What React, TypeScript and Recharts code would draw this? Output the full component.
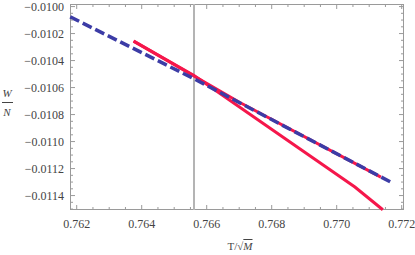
import { Line, LineChart, ReferenceLine, XAxis, YAxis } from 'recharts';

const blueT = [0.7618, 0.76561, 0.77169];
const blueW = [-0.010076, -0.010535, -0.011304];

const redUpperT = [0.76375, 0.76702, 0.77136];
const redUpperW = [-0.010256, -0.010711, -0.011263];

const redLowerT = [0.76375, 0.76561, 0.77056, 0.77142];
const redLowerW = [-0.010256, -0.01051, -0.011337, -0.011505];

const markerT = 0.76561;

const xMajorTicks = [0.762, 0.764, 0.766, 0.768, 0.77, 0.772];
const xTickLabels = ['0.762', '0.764', '0.766', '0.768', '0.770', '0.772'];
const xMinorTicks = [
  0.7625, 0.763, 0.7635, 0.7645, 0.765, 0.7655, 0.7665, 0.767,
  0.7675, 0.7685, 0.769, 0.7695, 0.7705, 0.771, 0.7715
];

const yMajorTicks = [-0.01, -0.0102, -0.0104, -0.0106, -0.0108, -0.011, -0.0112, -0.0114];
const yTickLabels = ['\u22120.0100', '\u22120.0102', '\u22120.0104', '\u22120.0106', '\u22120.0108', '\u22120.0110', '\u22120.0112', '\u22120.0114'];
const yMinorTicks = [
  -0.01005, -0.0101, -0.01015, -0.01025, -0.0103, -0.01035, -0.01045, -0.0105,
  -0.01055, -0.01065, -0.0107, -0.01075, -0.01085, -0.0109, -0.01095, -0.01105,
  -0.0111, -0.01115, -0.01125, -0.0113, -0.01135, -0.01145, -0.0115
];

const toPoints = (t: number[], w: number[]) => t.map((v, i) => ({ t: v, w: w[i] }));

const frame = '#9a9a9a';
const textColor = '#444';
const font = '"Liberation Serif", "Times New Roman", serif';

const plotW = 334;
const plotH = 206;

const majorIndex = (list: number[], v: number) => list.findIndex(m => Math.abs(m - v) < 1e-8);

// inward ticks on both opposite sides of the frame, Mathematica style
const BottomTick = ({ x, y, payload }: any) => {
  const i = majorIndex(xMajorTicks, payload.value);
  const len = i >= 0 ? 5 : 3;
  return (
    <g>
      <rect x={x - 0.5} y={y - len} width={1} height={len} fill={frame} />
      <rect x={x - 0.5} y={y - plotH} width={1} height={len} fill={frame} />
      {i >= 0 && (
        <text x={x} y={y + 18} textAnchor="middle" fontSize={12} fontFamily={font} fill={textColor}>
          {xTickLabels[i]}
        </text>
      )}
    </g>
  );
};

const LeftTick = ({ x, y, payload }: any) => {
  const i = majorIndex(yMajorTicks, payload.value);
  const len = i >= 0 ? 5 : 3;
  return (
    <g>
      <rect x={x} y={y - 0.5} width={len} height={1} fill={frame} />
      <rect x={x + plotW - len} y={y - 0.5} width={len} height={1} fill={frame} />
      {i >= 0 && (
        <text x={x - 6} y={y + 4} textAnchor="end" fontSize={12} fontFamily={font} fill={textColor}>
          {yTickLabels[i]}
        </text>
      )}
    </g>
  );
};

const xTicks = [...xMajorTicks, ...xMinorTicks];
const yTicks = [...yMajorTicks, ...yMinorTicks];
const xDomain = [0.761794, 0.772071];
const yDomain = [-0.011507, -0.009981];

export default function App() {
  return (
    <div style={{ position: 'absolute', left: 0, top: 0, width: 415, height: 255, background: '#fff' }}>
      <div style={{ position: 'absolute', left: 70, top: 4, width: plotW, height: plotH, boxSizing: 'border-box', border: `1px solid ${frame}` }} />
      <LineChart width={415} height={255} margin={{ top: 4, right: 11, bottom: 0, left: 0 }}>
        <XAxis
          dataKey="t"
          type="number"
          domain={xDomain}
          ticks={xTicks}
          interval={0}
          tickSize={0}
          tickMargin={0}
          height={45}
          axisLine={false}
          tickLine={false}
          tick={BottomTick}
        />
        <YAxis
          type="number"
          domain={yDomain}
          ticks={yTicks}
          interval={0}
          tickSize={0}
          tickMargin={0}
          width={70}
          axisLine={false}
          tickLine={false}
          tick={LeftTick}
        />
        <ReferenceLine x={markerT} stroke="#b4b4b4" strokeWidth={2} />
        <Line
          data={toPoints(redLowerT, redLowerW)}
          dataKey="w"
          type="linear"
          stroke="#f5174b"
          strokeWidth={3}
          dot={false}
          isAnimationActive={false}
        />
        <Line
          data={toPoints(redUpperT, redUpperW)}
          dataKey="w"
          type="linear"
          stroke="#f5174b"
          strokeWidth={3}
          dot={false}
          isAnimationActive={false}
        />
        <Line
          data={toPoints(blueT, blueW)}
          dataKey="w"
          type="linear"
          stroke="#3c3ca6"
          strokeWidth={3.5}
          strokeDasharray="10 4"
          dot={false}
          isAnimationActive={false}
        />
      </LineChart>
      <div style={{ position: 'absolute', left: 0, top: 88, width: 14, fontFamily: font, fontSize: 11, fontStyle: 'italic', color: textColor, textAlign: 'center', lineHeight: '11px' }}>
        <div>W</div>
        <div style={{ borderTop: `1px solid ${textColor}`, margin: '3px 1px 4px 2px' }} />
        <div>N</div>
      </div>
      <div style={{ position: 'absolute', left: 220, top: 240, width: 40, fontFamily: font, fontSize: 11, color: textColor, textAlign: 'center' }}>
        T/{'\u221A'}<span style={{ fontStyle: 'italic', textDecoration: 'overline' }}>M</span>
      </div>
    </div>
  );
}
